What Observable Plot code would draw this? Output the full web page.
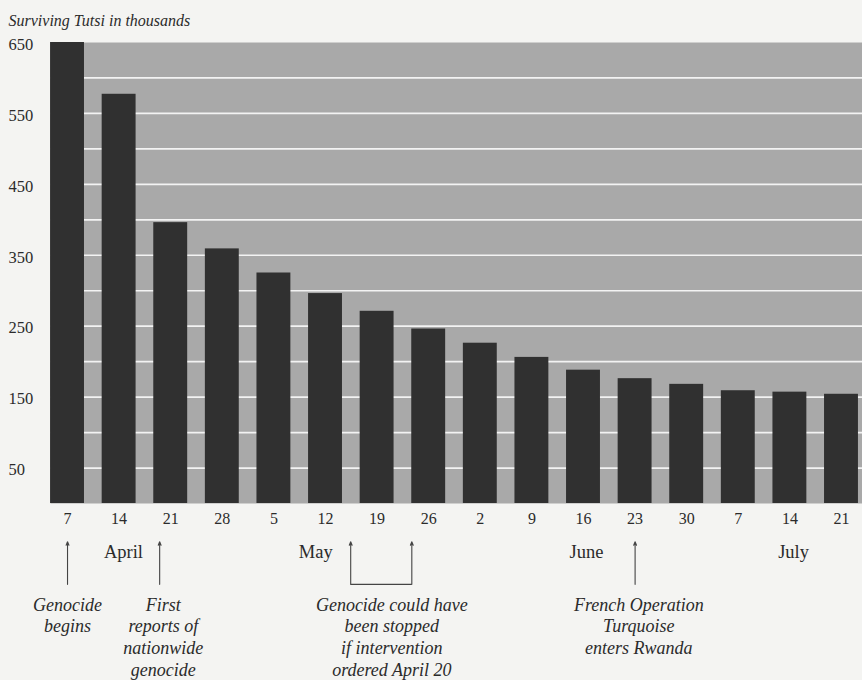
<!DOCTYPE html>
<html><head><meta charset="utf-8">
<script src="https://cdn.jsdelivr.net/npm/d3@7"></script>
<script src="https://cdn.jsdelivr.net/npm/@observablehq/plot@0.6"></script>
<style>html,body{margin:0;padding:0;background:#f4f4f2;overflow:hidden}</style>
</head><body><div id="chart"></div>
<script>
const weeks = ["1994-04-07","1994-04-14","1994-04-21","1994-04-28","1994-05-05","1994-05-12","1994-05-19","1994-05-26","1994-06-02","1994-06-09","1994-06-16","1994-06-23","1994-06-30","1994-07-07","1994-07-14","1994-07-21"];
const dayLabels = ["7","14","21","28","5","12","19","26","2","9","16","23","30","7","14","21"];
const survivors = [650,577,396,359,325,296,271,246,226,206,188,176,168,159,157,154];
const yTickLabels = [50,150,250,350,450,550,650];
const gridValues = [50,100,150,200,250,300,350,400,450,500,550,600];
const months = ["April","May","June","July"];
const monthDates = ["1994-04-14T14:00Z","1994-05-10T16:00Z","1994-06-16T10:00Z","1994-07-14T12:00Z"];
const notes = ["Genocide\nbegins","First\nreports of\nnationwide\ngenocide","Genocide could have\nbeen stopped\nif intervention\nordered April 20","French Operation\nTurquoise\nenters Rwanda"];
const noteDates = ["1994-04-07T00:00Z","1994-04-20T00:00Z","1994-05-21T00:00Z","1994-06-23T12:00Z"];
const arrowDates = ["1994-04-07T00:00Z","1994-04-19T12:00Z","1994-05-15T10:00Z","1994-05-23T17:00Z","1994-06-23T00:00Z"];
const bracketDates = ["1994-05-15T10:00Z","1994-05-23T17:00Z"];

const DAY = 864e5;
const data = weeks.map((w, i) => ({date: new Date(w + "T00:00Z"), label: dayLabels[i], value: survivors[i]}));
const start = new Date(+data[0].date - 2.31 * DAY);
const end = new Date(+data[data.length - 1].date + 2.85 * DAY);
const arrowTop = -54, arrowBottom = -114;

const chart = Plot.plot({
  width: 862,
  height: 680,
  marginLeft: 50,
  marginRight: 0,
  marginTop: 42,
  marginBottom: 177,
  style: {fontFamily: "Liberation Serif", background: "#f4f4f2", color: "#2b2b2b", overflow: "visible"},
  x: {type: "utc", domain: [start, end], axis: null},
  y: {domain: [0, 650], axis: null},
  marks: [
    Plot.frame({fill: "#a9a9a9", stroke: "none"}),
    Plot.ruleY(gridValues, {stroke: "#f3f3f3", strokeWidth: 1.7}),
    Plot.rectY(data, {
      x1: d => new Date(+d.date - 2.3 * DAY),
      x2: d => new Date(+d.date + 2.3 * DAY),
      y: "value",
      fill: "#303030"
    }),
    Plot.text(yTickLabels, {y: d => d, text: d => String(d), frameAnchor: "left", dx: -42, dy: 2, textAnchor: "start", fontSize: 16.5, fill: "#2b2b2b"}),
    Plot.text(["Surviving Tutsi in thousands"], {frameAnchor: "top-left", dx: -42, dy: -28, textAnchor: "start", fontSize: 16, fontStyle: "italic", fill: "#2b2b2b"}),
    Plot.text(data, {x: "date", text: "label", frameAnchor: "bottom", dy: 20, fontSize: 16, fill: "#2b2b2b"}),
    Plot.text(months, {x: (d, i) => new Date(monthDates[i]), text: d => d, frameAnchor: "bottom", dy: 54, fontSize: 18.5, fill: "#2b2b2b"}),
    Plot.text(notes, {x: (d, i) => new Date(noteDates[i]), text: d => d, frameAnchor: "bottom", lineAnchor: "top", dy: 92, fontSize: 18, lineHeight: 1.2, fontStyle: "italic", fill: "#2b2b2b"}),
    Plot.arrow(arrowDates, {x: d => new Date(d), y1: () => arrowBottom, y2: () => arrowTop, stroke: "#444", strokeWidth: 1.1, headLength: 5, headAngle: 45}),
    Plot.link([bracketDates], {x1: d => new Date(d[0]), x2: d => new Date(d[1]), y1: () => arrowBottom, y2: () => arrowBottom, stroke: "#444", strokeWidth: 1.1})
  ]
});
document.getElementById("chart").append(chart);
</script>
</body></html>
